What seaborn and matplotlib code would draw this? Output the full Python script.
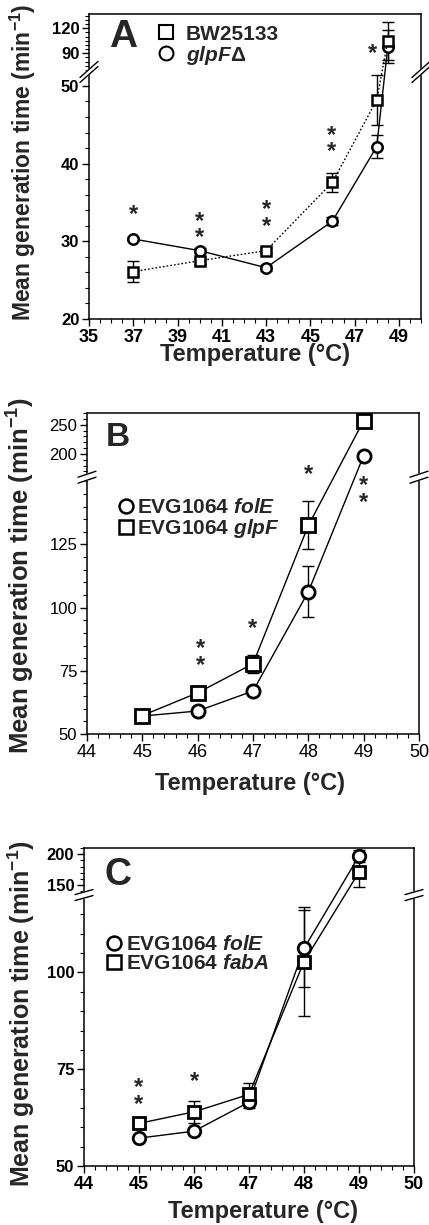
import numpy as np
import pandas as pd
import matplotlib
matplotlib.use("Agg")
import matplotlib.pyplot as plt
import matplotlib.transforms as mtransforms
import seaborn as sns
from matplotlib.lines import Line2D
from matplotlib.ticker import FixedLocator

# ---- panel A: BW25133 vs glpF deletion ----
temps_a = [37, 40, 43, 46, 48, 48.5]
bw_mean = [26.1, 27.5, 28.8, 37.6, 48.2, 105.0]
bw_err = [1.4, 0.4, 0.3, 1.2, 3.2, 23.0]
glpf_mean = [30.3, 28.8, 26.6, 32.6, 42.2, 98.0]
glpf_err = [0.2, 0.3, 0.4, 0.5, 1.5, 20.0]
# significance marks: x, y (centre), number of stars
stars_a_x = [37, 40, 43, 45.95, 47.8]
stars_a_y = [33.9, 32.05, 33.5, 43.1, 95.0]
stars_a_n = [1, 2, 2, 2, 1]

# ---- panel B: EVG1064 folE vs glpF ----
temps_b = [45, 46, 47, 48, 49]
foleb_mean = [57.1, 59.1, 67.0, 106.3, 197.0]
foleb_err = [0.5, 0.5, 1.0, 10.0, 4.0]
glpfb_mean = [57.3, 66.3, 77.8, 132.5, 257.0]
glpfb_err = [0.5, 0.5, 3.5, 9.5, 3.0]
stars_b_x = [46.05, 47, 48, 49]
stars_b_y = [82.1, 93.3, 172.0, 146.6]
stars_b_n = [2, 1, 1, 2]

# ---- panel C: EVG1064 folE vs fabA ----
temps_c = [45, 46, 47, 48, 49]
folec_mean = [57.2, 59.0, 66.5, 106.2, 197.0]
folec_err = [0.5, 0.5, 1.5, 10.0, 9.0]
faba_mean = [61.0, 64.0, 68.5, 102.8, 171.0]
faba_err = [0.5, 2.8, 3.0, 14.0, 24.0]
stars_c_x = [45, 46]
stars_c_y = [69.2, 72.9]
stars_c_n = [2, 1]

xticks_a = [35, 37, 39, 41, 43, 45, 47, 49]
yticks_a = [20, 30, 40, 50, 90, 120]
xticks_bc = [44, 45, 46, 47, 48, 49, 50]
yticks_b = [50, 75, 100, 125, 200, 250]
yticks_c = [50, 75, 100, 150, 200]

W, H = 429, 1225

sns.set_style("ticks")
plt.rcParams["font.family"] = ["Liberation Sans", "DejaVu Sans"]
plt.rcParams["mathtext.fontset"] = "custom"
plt.rcParams["mathtext.rm"] = "Liberation Sans:bold"
plt.rcParams["mathtext.bf"] = "Liberation Sans:bold"
plt.rcParams["mathtext.it"] = "Liberation Sans:italic:bold"


def broken_scale(ymin, lo_top, hi_bot, ymax, frac):
    # piecewise linear y mapping with a gap between lo_top and hi_bot
    def fwd(y):
        y = np.asarray(y, dtype=float)
        lo = (y - ymin) / (lo_top - ymin) * frac
        hi = frac + (y - hi_bot) / (ymax - hi_bot) * (1 - frac)
        return np.where(y <= lo_top, lo, np.where(y >= hi_bot, hi, frac))

    def inv(t):
        t = np.asarray(t, dtype=float)
        lo = ymin + t / frac * (lo_top - ymin)
        hi = hi_bot + (t - frac) / (1 - frac) * (ymax - hi_bot)
        return np.where(t <= frac, lo, hi)

    return fwd, inv


def add_panel(fig, left, top, right, bottom):
    return fig.add_axes([left / W, 1 - bottom / H, (right - left) / W, (bottom - top) / H])


def draw_break(ax, frac, dx_px, dy_px, gap_px):
    pos = ax.get_position()
    aw, ah = pos.width * W, pos.height * H
    dx, dy, g = dx_px / aw, dy_px / ah, gap_px / ah
    for x0 in (0, 1):
        ax.fill([x0 - dx / 2, x0 + dx / 2, x0 + dx / 2, x0 - dx / 2],
                [frac - g / 2 - dy / 2, frac - g / 2 + dy / 2, frac + g / 2 + dy / 2, frac + g / 2 - dy / 2],
                color="white", transform=ax.transAxes, clip_on=False, zorder=6)
        for off in (-g / 2, g / 2):
            ax.plot([x0 - dx / 2, x0 + dx / 2], [frac + off - dy / 2, frac + off + dy / 2],
                    color="black", lw=1.0, transform=ax.transAxes, clip_on=False, zorder=7)


def plot_series(ax, x, mean, err, marker, ls, ms, mew):
    df = pd.DataFrame({"temp": x, "mean": mean})
    ax.errorbar(x, mean, yerr=err, fmt="none", ecolor="black", elinewidth=1.0,
                capsize=4, capthick=1.0, zorder=2)
    sns.lineplot(data=df, x="temp", y="mean", ax=ax, color="black", lw=1.0, linestyle=ls,
                 marker=marker, markersize=ms, markerfacecolor="white", markeredgecolor="black",
                 markeredgewidth=mew, errorbar=None, legend=False, zorder=3)


def style_panel(ax, xlim, xticks, xminor, yticks, yminor, bold_ticks):
    ax.set_xlim(*xlim)
    ax.set_xticks(xticks)
    ax.set_xticklabels([str(t) for t in xticks])
    ax.xaxis.set_minor_locator(FixedLocator(xminor))
    ax.set_yticks(yticks)
    ax.set_yticklabels([str(t) for t in yticks])
    ax.yaxis.set_minor_locator(FixedLocator(yminor))
    ax.tick_params(which="major", direction="out", length=5, width=1.0, pad=2, colors="black")
    ax.tick_params(axis="x", which="major", labelsize=13)
    ax.tick_params(axis="y", which="major", labelsize=12)
    ax.tick_params(which="minor", direction="out", length=3, width=0.8, colors="black")
    for s in ax.spines.values():
        s.set_visible(True)
        s.set_linewidth(1.1)
        s.set_color("black")
    if bold_ticks:
        for lab in ax.get_xticklabels() + ax.get_yticklabels():
            lab.set_fontweight("bold")


def label_panel(ax, letter, lx, ly, lsize, xl, yl, ysize):
    ax.text(lx, ly, letter, transform=ax.transAxes, fontsize=lsize, fontweight="bold",
            ha="center", va="center")
    ax.set_xlabel("Temperature (°C)", fontsize=17, fontweight="bold")
    ax.set_ylabel("Mean generation time (min$^{-1}$)", fontsize=ysize, fontweight="bold")
    ax.xaxis.set_label_coords(*xl)
    ax.yaxis.set_label_coords(*yl)


def add_stars(fig, ax, xs, ys, ns):
    tr = mtransforms.offset_copy(ax.transData, fig=fig, y=-4, units="dots")
    for x, y, n in zip(xs, ys, ns):
        ax.text(x, y, "\n".join(["*"] * n), transform=tr, fontsize=17, fontweight="bold",
                ha="center", va="center", linespacing=0.65, zorder=5)


fig = plt.figure(figsize=(W / 100, H / 100), dpi=100)

# ---------------- A ----------------
ax = add_panel(fig, 89, 14, 421, 319)
fwd, inv = broken_scale(20, 51.8, 67.6, 137, 0.81)
ax.set_yscale("function", functions=(fwd, inv))
ax.set_ylim(20, 137)
plot_series(ax, temps_a, glpf_mean, glpf_err, "o", "-", 7.5, 1.8)
plot_series(ax, temps_a, bw_mean, bw_err, "s", (0, (1.2, 1.5)), 7, 1.8)
add_stars(fig, ax, stars_a_x, stars_a_y, stars_a_n)
style_panel(ax, (35, 50), xticks_a, np.arange(35, 50.01, 0.5), yticks_a,
            list(np.arange(22, 52, 2)) + list(np.arange(70, 137, 5)), True)
hs = [Line2D([], [], ls="none", marker="s", ms=10, mfc="white", mec="black", mew=1.5),
      Line2D([], [], ls="none", marker="o", ms=10, mfc="white", mec="black", mew=1.5)]
ax.legend(hs, ["BW25133", "$glpF$Δ"], loc="upper left", bbox_to_anchor=(0.2, 0.965),
          frameon=False, prop={"weight": "bold", "size": 15}, handlelength=1.0,
          handletextpad=0.45, labelspacing=0.0, borderaxespad=0, borderpad=0)
label_panel(ax, "A", 0.102, 0.925, 28, (0.5, -0.08), (-0.154, 0.515), 16.5)
draw_break(ax, 0.81, 18, 16, 5)

# ---------------- B ----------------
ax = add_panel(fig, 87, 413, 419, 734)
fwd, inv = broken_scale(50, 151.6, 160, 270, 0.80)
ax.set_yscale("function", functions=(fwd, inv))
ax.set_ylim(50, 270)
plot_series(ax, temps_b, foleb_mean, foleb_err, "o", "-", 9.5, 2.0)
plot_series(ax, temps_b, glpfb_mean, glpfb_err, "s", "-", 9.5, 2.0)
add_stars(fig, ax, stars_b_x, stars_b_y, stars_b_n)
style_panel(ax, (44, 50), xticks_bc, np.arange(44, 50.01, 0.2), yticks_b,
            list(np.arange(55, 151, 5)) + list(np.arange(160, 271, 10)), False)
hs = [Line2D([], [], ls="none", marker="o", ms=10, mfc="white", mec="black", mew=1.8),
      Line2D([], [], ls="none", marker="s", ms=10, mfc="white", mec="black", mew=1.8)]
ax.legend(hs, ["EVG1064 $folE$", "EVG1064 $glpF$"], loc="upper left", bbox_to_anchor=(0.095, 0.735),
          frameon=False, prop={"weight": "bold", "size": 15}, handlelength=0.7,
          handletextpad=0.2, labelspacing=0.0, borderaxespad=0, borderpad=0)
label_panel(ax, "B", 0.093, 0.925, 24, (0.49, -0.118), (-0.151, 0.495), 18.5)
draw_break(ax, 0.80, 18, 6, 6)

# ---------------- C ----------------
ax = add_panel(fig, 84, 848, 414, 1166)
fwd, inv = broken_scale(50, 120, 134, 210, 0.852)
ax.set_yscale("function", functions=(fwd, inv))
ax.set_ylim(50, 210)
plot_series(ax, temps_c, folec_mean, folec_err, "o", "-", 9, 2.0)
plot_series(ax, temps_c, faba_mean, faba_err, "s", "-", 9, 2.0)
add_stars(fig, ax, stars_c_x, stars_c_y, stars_c_n)
style_panel(ax, (44, 50), xticks_bc, np.arange(44, 50.01, 0.2), yticks_c,
            list(np.arange(55, 120, 5)) + list(np.arange(140, 211, 10)), True)
hs = [Line2D([], [], ls="none", marker="o", ms=10, mfc="white", mec="black", mew=1.8),
      Line2D([], [], ls="none", marker="s", ms=10, mfc="white", mec="black", mew=1.8)]
ax.legend(hs, ["EVG1064 $folE$", "EVG1064 $fabA$"], loc="upper left", bbox_to_anchor=(0.07, 0.725),
          frameon=False, prop={"weight": "bold", "size": 15}, handlelength=0.7,
          handletextpad=0.2, labelspacing=0.0, borderaxespad=0, borderpad=0)
label_panel(ax, "C", 0.103, 0.915, 27, (0.542, -0.107), (-0.142, 0.48), 18)
draw_break(ax, 0.852, 18, 5, 6)

fig.savefig("out.png", dpi=100)
